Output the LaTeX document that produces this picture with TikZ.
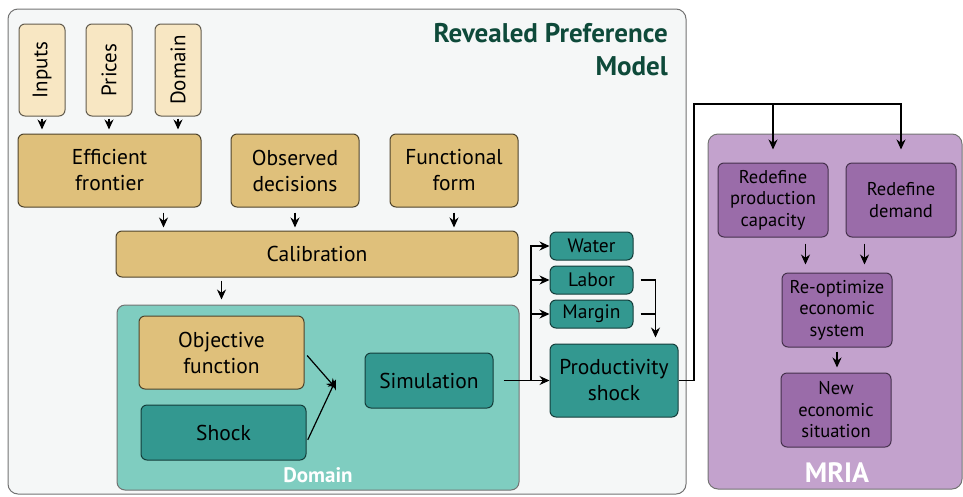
\documentclass[tikz,border=0pt]{standalone}
\usepackage{fontspec}
\setmainfont{PT Sans}
\usepackage{xcolor}
\usepackage{tikz}
\usetikzlibrary{arrows.meta}

\definecolor{panelgray}{HTML}{F5F7F7}
\definecolor{lightbeige}{HTML}{F8E7C3}
\definecolor{tan}{HTML}{DFC07B}
\definecolor{lightteal}{HTML}{7FCDC0}
\definecolor{darkteal}{HTML}{339890}
\definecolor{lightpurple}{HTML}{C3A2CD}
\definecolor{darkpurple}{HTML}{9A6CA9}
\definecolor{titlegreen}{HTML}{0E4A3A}

\begin{document}
\begin{tikzpicture}[x=1pt,y=-1pt]
\tikzstyle{panel} = [draw=black!55,line width=1,rounded corners=10,inner sep=0];
\tikzstyle{input} = [font=\fontsize{21}{24}\selectfont,fill=lightbeige,draw=black!60!lightbeige,line width=1,rounded corners=6,rotate=90,inner sep=0];
\tikzstyle{model} = [font=\fontsize{21.5}{26}\selectfont,align=center,fill=tan,draw=black!65!tan,line width=1,rounded corners=6,inner sep=0];
\tikzstyle{teal} = [font=\fontsize{21.5}{26}\selectfont,align=center,fill=darkteal,draw=black!60!darkteal,line width=1,rounded corners=6,inner sep=0];
\tikzstyle{factor} = [font=\fontsize{19.5}{22}\selectfont,fill=darkteal,draw=black!60!darkteal,line width=1,rounded corners=6,inner sep=0,minimum width=83,minimum height=28];
\tikzstyle{mria} = [font=\fontsize{18.5}{21.5}\selectfont,align=center,fill=darkpurple,draw=black!55!darkpurple,line width=1,rounded corners=6,inner sep=0,minimum width=110,minimum height=74];
\tikzstyle{arr} = [line width=1.2,-{Stealth[length=10,width=9]}];
\tikzstyle{line} = [line width=1.2];
\useasboundingbox (0,0) rectangle (963,496);

% panels
\node [panel,fill=panelgray,minimum width=678,minimum height=485] (v0) at (347,251.5) {};
\node [panel,fill=lightpurple,minimum width=254,minimum height=355] (v20) at (835,311.5) {};
\node [font=\fontsize{27}{33}\selectfont\bfseries,color=titlegreen,align=right,anchor=north east,inner sep=0] (v21) at (668,23) {Revealed Preference\\Model};

% revealed preference model
\node [input,minimum width=92,minimum height=46] (v1) at (42,70) {Inputs};
\node [input,minimum width=92,minimum height=46] (v2) at (109,70) {Prices};
\node [input,minimum width=92,minimum height=46] (v3) at (178,70) {Domain};
\node [model,minimum width=183,minimum height=73] (v4) at (109.5,170.5) {Efficient\\frontier};
\node [model,minimum width=128,minimum height=73] (v5) at (295,170.5) {Observed\\decisions};
\node [model,minimum width=128,minimum height=73] (v6) at (454,170.5) {Functional\\form};
\node [model,minimum width=402,minimum height=46] (v7) at (317,254) {Calibration};
\draw [arr,shorten <=2,shorten >=4] (v1.west) -- (v1.west |- v4.north);
\draw [arr,shorten <=2,shorten >=4] (v2.west) -- (v2.west |- v4.north);
\draw [arr,shorten <=2,shorten >=4] (v3.west) -- (v3.west |- v4.north);
\draw [arr,shorten <=5,shorten >=3] ([xshift=-38]v4.south east) -- ([xshift=-38]v4.south east |- v7.north);
\draw [arr,shorten <=5,shorten >=3] (v5.south) -- (v5.south |- v7.north);
\draw [arr,shorten <=5,shorten >=3] (v6.south) -- (v6.south |- v7.north);

% domain
\node [panel,fill=lightteal,rounded corners=8,minimum width=402,minimum height=185] (v8) at (318,397.5) {};
\node [font=\fontsize{21}{24}\selectfont\bfseries,color=white,inner sep=0] (v9) at (318,475) {Domain};
\node [model,minimum width=165,minimum height=73] (v10) at (221.5,352.5) {Objective\\function};
\node [teal,minimum width=165,minimum height=55] (v11) at (223.5,432.5) {Shock};
\node [teal,minimum width=128,minimum height=55] (v12) at (429,380.5) {Simulation};
\coordinate (v13) at (336,383.5);
\draw [arr,shorten <=4] (v10.east) -- ([yshift=-5]v13);
\draw [arr,shorten <=3] ([yshift=-10]v11.east) -- ([yshift=4]v13);
\draw [arr,shorten <=3,shorten >=5] ([xshift=106]v7.south west) -- ([xshift=106]v7.south west |- v8.north);

% shocks
\node [factor] (v14) at (591.5,246) {Water};
\node [factor] (v15) at (591.5,280) {Labor};
\node [factor] (v16) at (591.5,314) {Margin};
\node [teal,minimum width=128,minimum height=73] (v17) at (614,380.5) {Productivity\\shock};
\coordinate (v18) at (531,380.5);
\coordinate (v19) at ([xshift=-23]v17.north east);
\draw [arr,shorten <=10] (v12.east) -- (v17.west);
\draw [arr] (v18) |- (v14.west);
\draw [arr] (v18) |- (v15.west);
\draw [arr] (v18) |- (v16.west);
\draw [arr,shorten <=7,shorten >=6] (v15.east) -| (v19);
\draw [line,shorten <=7] (v16.east) -- (v16.east -| v19);

% mria
\node [font=\fontsize{28}{30}\selectfont\bfseries,color=white,inner sep=0] (v22) at (837,473) {MRIA};
\node [mria] (v23) at (773,200) {Redefine\\production\\capacity};
\node [mria] (v24) at (901,200) {Redefine\\demand};
\node [mria] (v25) at (837,310) {Re-optimize\\economic\\system};
\node [mria] (v26) at (836,410) {New\\economic\\situation};
\coordinate (v27) at (694,104);
\draw [arr,shorten >=13] (v17.east) -| (v27) -| (v24.north);
\draw [arr,shorten >=13] (v23.north |- v27) -- (v23.north);
\draw [arr,shorten <=6,shorten >=8] ([xshift=-23]v23.south east) -- ([xshift=-23]v23.south east |- v25.north);
\draw [arr,shorten <=6,shorten >=8] ([xshift=19]v24.south west) -- ([xshift=19]v24.south west |- v25.north);
\draw [arr,shorten <=4,shorten >=5] (v25.south) -- (v25.south |- v26.north);
\end{tikzpicture}
\end{document}
